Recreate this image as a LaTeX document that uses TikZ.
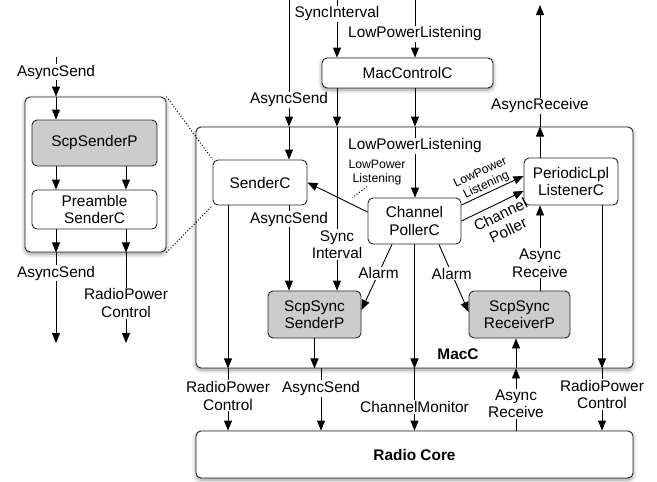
\documentclass[tikz,border=0pt]{standalone}
\usepackage{fontspec}
\setmainfont{Liberation Sans}
\usetikzlibrary{arrows.meta}
\usetikzlibrary{shadows.blur}
\newcommand{\mainsize}{\fontsize{15.4}{17.5}\selectfont}
\tikzset{
  comp/.style={draw=black!85, fill=white, line width=0.9pt, rounded corners=5pt, align=center, inner sep=0pt},
  scp/.style={comp, fill=black!20},
  shade/.style={blur shadow={shadow xshift=0pt, shadow yshift=-2pt, shadow blur radius=4pt, shadow opacity=45}},
  wire/.style={line width=0.9pt, -{Triangle[length=10pt, width=8pt]}},
  lbl/.style={fill=white, inner sep=1pt, align=center},
  tiny/.style={font=\fontsize{12.2}{14}\selectfont, align=center, inner sep=1pt},
  dots/.style={dotted, line width=1pt}
}
\begin{document}
\begin{tikzpicture}[x=1pt, y=-1pt, font=\mainsize]
\useasboundingbox (0,0) rectangle (657,482);

% blocks
\node[comp, shade, minimum width=141pt, minimum height=155pt] (side) at (95.5,174.5) {};
\node[scp, minimum width=125pt, minimum height=46pt] (scpsender) at (94.5,143) {ScpSenderP};
\node[comp, minimum width=125pt, minimum height=39pt] (preamble) at (94.5,209.5) {Preamble\\SenderC};
\node[comp, shade, minimum width=437pt, minimum height=241pt] (macc) at (414.5,247.5) {};
\node[comp, shade, minimum width=171pt, minimum height=30pt] (macctl) at (407.5,73) {MacControlC};
\node[comp, minimum width=94pt, minimum height=45pt] (senderc) at (260,182.5) {SenderC};
\node[comp, minimum width=93pt, minimum height=46pt] (poller) at (414.5,221) {Channel\\PollerC};
\node[comp, minimum width=94pt, minimum height=47pt] (lpl) at (571,181.5) {PeriodicLpl\\ListenerC};
\node[scp, minimum width=93pt, minimum height=47pt] (syncsend) at (314.5,314.5) {ScpSync\\SenderP};
\node[scp, minimum width=101pt, minimum height=47pt] (syncrecv) at (519.5,314.5) {ScpSync\\ReceiverP};
\node[comp, shade, minimum width=437pt, minimum height=47pt, font=\mainsize\bfseries] (core) at (414.5,454.5) {Radio Core};
\node[font=\mainsize\bfseries] (macclbl) at (458,354) {MacC};
\node[tiny] (lpllbl) at (377,173) {LowPower\\Listening};

% free ends and columns
\coordinate (inL) at (56,57);
\coordinate (outL) at (56,343);
\coordinate (outR) at (126,343);
\coordinate (inSend) at (289,0);
\coordinate (inSync) at (337,0);
\coordinate (inLpl) at (415,0);
\coordinate (outRecv) at (540,5);
\coordinate (colRpA) at (228,0);
\coordinate (colRpB) at (602,0);
\coordinate (colSendOut) at (321,0);
\coordinate (colRecvIn) at (516,0);

% zoomed SenderC
\draw[wire] (inL) -- node[lbl, pos=0.38]{AsyncSend} (side.north -| inL);
\draw[wire] (side.north -| inL) -- (scpsender.north -| inL);
\draw[wire] (scpsender.south -| inL) -- (preamble.north -| inL);
\draw[wire] (scpsender.south -| outR) -- (preamble.north -| outR);
\draw[wire] (preamble.south -| inL) -- (side.south -| inL);
\draw[wire] (preamble.south -| outR) -- (side.south -| outR);
\draw[wire] (side.south -| outL) -- node[lbl, pos=0.23]{AsyncSend} (outL);
\draw[wire] (side.south -| outR) -- node[lbl, pos=0.56]{RadioPower\\Control} (outR);
\draw[dots] (side.north east) -- (senderc.north west);
\draw[dots] (side.south east) -- (senderc.south west);

% into MacC
\draw[wire] (inSend) -- node[lbl, pos=0.79]{AsyncSend} (macc.north -| inSend);
\draw[wire] (macc.north -| inSend) -- (senderc.north -| inSend);
\draw[wire] (inSync) -- node[lbl, pos=0.24]{SyncInterval} (macctl.north -| inSync);
\draw[wire] (macctl.south -| inSync) -- (macc.north -| inSync);
\draw[wire] (macc.north -| inSync) -- node[lbl, pos=0.72]{Sync\\Interval} (syncsend.north -| inSync);
\draw[wire] (inLpl) -- node[lbl, pos=0.59]{LowPowerListening} (macctl.north -| inLpl);
\draw[wire] (macctl.south -| inLpl) -- (macc.north -| inLpl);
\draw[wire] (macc.north -| inLpl) -- node[lbl, pos=0.27]{LowPowerListening} (poller.north -| inLpl);
\draw[wire] (lpl.north -| outRecv) -- (macc.north -| outRecv);
\draw[wire] (macc.north -| outRecv) -- node[lbl, pos=0.17]{AsyncReceive} (outRecv);

% inside MacC
\draw[wire] ([yshift=9pt]poller.west) -- coordinate[pos=0.25] (lplmark) (senderc.east);
\draw[dots] ([xshift=-10pt]lpllbl.south) -- ([yshift=7pt]lplmark);
\draw[wire] ([yshift=16pt]poller.east) -- node[tiny, sloped, above, pos=0.45]{LowPower\\Listening} ([yshift=5.5pt]lpl.west);
\draw[wire] (poller.east) -- node[sloped, below=4pt, pos=0.55, align=center, inner sep=1pt]{Channel\\Poller} ([yshift=-9.5pt]lpl.west);
\draw[wire] (senderc.south -| inSend) -- node[lbl, pos=0.16]{AsyncSend} (syncsend.north -| inSend);
\draw[wire] ([xshift=-22.5pt]poller.south) -- node[lbl, pos=0.44]{Alarm} ([yshift=4.5pt]syncsend.east);
\draw[wire] ([xshift=24.5pt]poller.south) -- node[lbl, pos=0.43]{Alarm} ([yshift=2.5pt]syncrecv.west);
\draw[wire] (syncrecv.north -| outRecv) -- node[lbl, pos=0.32]{Async\\Receive} (lpl.south -| outRecv);

% down to Radio Core
\draw[wire] (senderc.south -| colRpA) -- (macc.south -| colRpA);
\draw[wire] (macc.south -| colRpA) -- node[lbl, pos=0.44]{RadioPower\\Control} (core.north -| colRpA);
\draw[wire] (syncsend.south) -- (macc.south -| syncsend.south);
\draw[wire] (macc.south -| colSendOut) -- node[lbl, pos=0.32]{AsyncSend} (core.north -| colSendOut);
\draw[wire] (poller.south) -- (macc.south -| poller.south);
\draw[wire] (macc.south -| poller.south) -- node[lbl, pos=0.62]{ChannelMonitor} (core.north -| poller.south);
\draw[wire] (core.north -| colRecvIn) -- node[lbl, pos=0.43]{Async\\Receive} (macc.south -| colRecvIn);
\draw[wire] (macc.south -| colRecvIn) -- (syncrecv.south -| colRecvIn);
\draw[wire] (lpl.south -| colRpB) -- (macc.south -| colRpB);
\draw[wire] (macc.south -| colRpB) -- node[lbl, pos=0.42]{RadioPower\\Control} (core.north -| colRpB);
\end{tikzpicture}
\end{document}
